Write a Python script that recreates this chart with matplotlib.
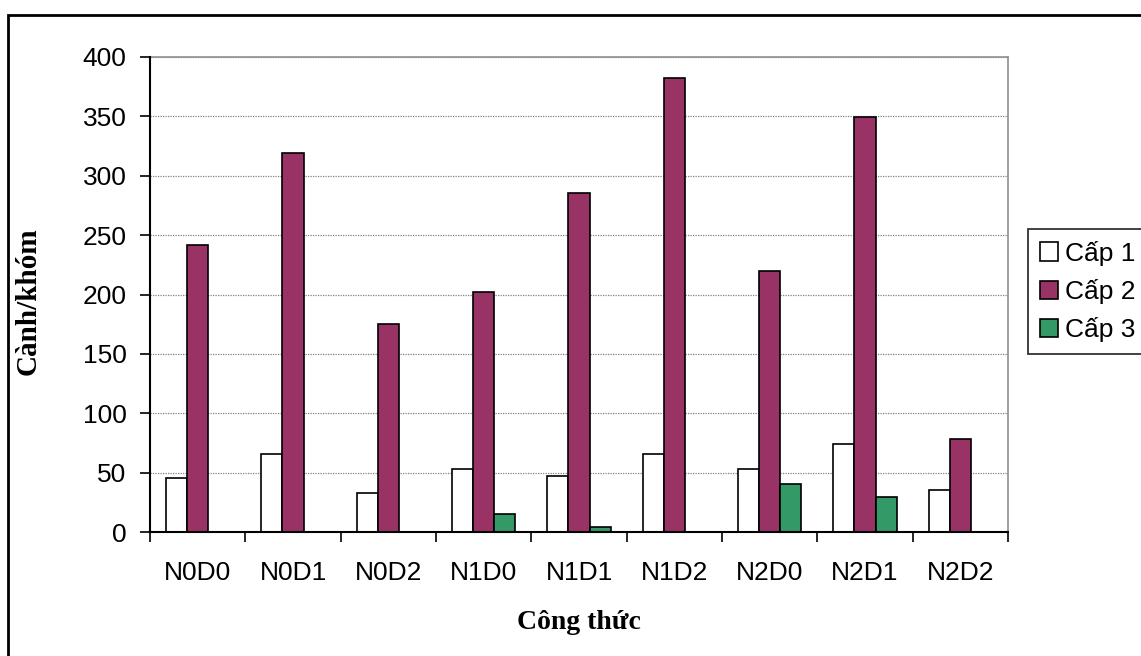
import matplotlib
matplotlib.use('Agg')
import matplotlib.pyplot as plt
from matplotlib.patches import Rectangle
import numpy as np

# Dữ liệu
cong_thuc = ['N0D0', 'N0D1', 'N0D2', 'N1D0', 'N1D1', 'N1D2', 'N2D0', 'N2D1', 'N2D2']
cap_1 = [45.5, 66, 32.8, 53.3, 47.2, 66, 53.3, 73.8, 35.6]
cap_2 = [241.4, 318.9, 174.9, 201.8, 285.8, 382.3, 219.5, 349.2, 78.6]
cap_3 = [0, 0, 0, 15.4, 3.9, 0, 40.4, 29.5, 0]
ten_cap = ['Cấp 1', 'Cấp 2', 'Cấp 3']
mau = ['white', '#993366', '#339966']
y_ticks = [0, 50, 100, 150, 200, 250, 300, 350, 400]

plt.rcParams['font.family'] = ['Liberation Sans', 'DejaVu Sans']

fig = plt.figure(figsize=(11.41, 6.56), dpi=100)
ax = fig.add_axes([150/1141, 1 - 532/656, 858/1141, 475/656])

x = np.arange(len(cong_thuc))
w = 1 / 4.5
for i, (vals, ten, c) in enumerate(zip([cap_1, cap_2, cap_3], ten_cap, mau)):
    ax.bar(x + (i - 1) * w, vals, width=w, color=c, edgecolor='black',
           linewidth=1.2, label=ten, zorder=3)

ax.set_xlim(-0.5, len(cong_thuc) - 0.5)
ax.set_ylim(0, 400)
ax.set_yticks(y_ticks)
ax.tick_params(axis='y', direction='out', length=7, width=1.2, pad=10, labelsize=19)

# vạch chia ở ranh giới các nhóm, nhãn ở giữa
ax.set_xticks(np.arange(len(cong_thuc) + 1) - 0.5)
ax.set_xticklabels([])
ax.set_xticks(x, minor=True)
ax.set_xticklabels(cong_thuc, minor=True)
ax.tick_params(axis='x', which='major', direction='out', length=7, width=1.2)
ax.tick_params(axis='x', which='minor', length=0, pad=21, labelsize=19)

ax.yaxis.grid(True, color='#808080', linestyle=(0, (1, 1)), linewidth=0.9, zorder=0)
ax.set_axisbelow(True)
for s in ['left', 'bottom']:
    ax.spines[s].set_color('black')
    ax.spines[s].set_linewidth(1.5)
    ax.spines[s].set_zorder(4)
for s in ['top', 'right']:
    ax.spines[s].set_color('#909090')
    ax.spines[s].set_linewidth(1.2)

ax.set_xlabel('Công thức', family=['Liberation Serif'], fontweight='bold', fontsize=20)
ax.xaxis.set_label_coords(0.5, -0.165)
ax.set_ylabel('Cành/khóm', family=['Liberation Serif'], fontweight='bold', fontsize=21)
ax.yaxis.set_label_coords(-0.126, 0.485)

leg = fig.legend(loc='upper left', bbox_to_anchor=(1028/1141, 1 - 229/656),
                 fontsize=19, frameon=True, fancybox=False, handlelength=0.7,
                 handleheight=0.7, handletextpad=0.25, labelspacing=0.5,
                 borderpad=0.45, borderaxespad=0)
leg.get_frame().set_edgecolor('black')
leg.get_frame().set_linewidth(1.3)

# khung viền ngoài
fig.patches.append(Rectangle((8/1141, -0.1), 1.2, 1.1 - 15/656, transform=fig.transFigure,
                             fill=False, edgecolor='black', linewidth=2))

fig.savefig('out.png', dpi=100)
